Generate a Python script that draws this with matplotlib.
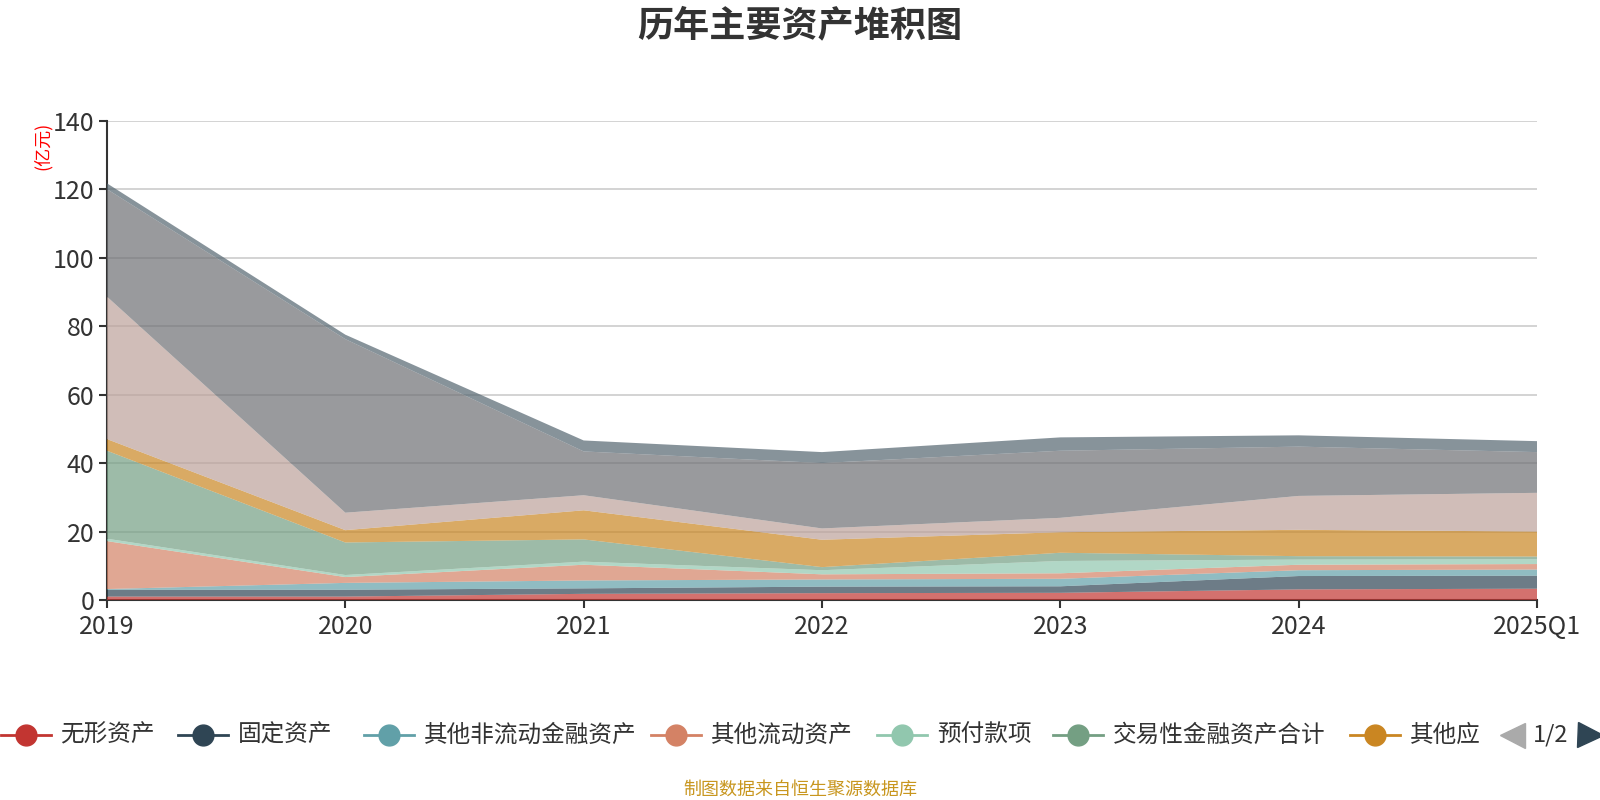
import matplotlib as mpl
import matplotlib.pyplot as plt
from matplotlib.lines import Line2D

mpl.rcParams['font.family'] = ['Noto Sans CJK SC', 'DejaVu Sans']

# 报告期
periods = ["2019", "2020", "2021", "2022", "2023", "2024", "2025Q1"]

# 各项资产（亿元），自下而上堆积
wuxing_zichan = [1.0, 1.0, 1.8, 2.0, 2.1, 3.1, 3.3]
guding_zichan = [2.0, 2.0, 1.6, 1.9, 1.9, 3.9, 3.8]
qita_fldjr_zichan = [0.2, 2.0, 2.3, 2.1, 2.2, 1.7, 1.8]
qita_ld_zichan = [14.0, 1.7, 4.6, 1.5, 1.6, 1.6, 1.6]
yufu_kuanxiang = [0.7, 0.6, 0.9, 1.2, 3.6, 1.5, 1.4]
jiaoyi_jr_zichan = [25.7, 9.5, 6.5, 0.9, 2.4, 1.0, 0.8]
qita_ying = [3.4, 3.6, 8.5, 8.0, 6.0, 7.7, 7.3]
# 第2页图例中的系列
yingshou = [41.6, 5.1, 4.4, 3.3, 4.2, 9.9, 11.3]
huobi_zijin = [31.4, 50.7, 12.8, 19.1, 19.6, 14.4, 11.9]
cunhuo = [1.7, 1.3, 3.2, 3.2, 3.9, 3.3, 3.2]

series = [wuxing_zichan, guding_zichan, qita_fldjr_zichan, qita_ld_zichan,
          yufu_kuanxiang, jiaoyi_jr_zichan, qita_ying, yingshou, huobi_zijin, cunhuo]
legend_names = ["无形资产", "固定资产", "其他非流动金融资产", "其他流动资产",
                "预付款项", "交易性金融资产合计", "其他应"]
colors = ['#c23531', '#2f4554', '#61a0a8', '#d48265', '#91c7ae', '#749f83',
          '#ca8622', '#bda29a', '#6e7074', '#546570']

fig = plt.figure(figsize=(16, 8), dpi=100)
ax = fig.add_axes([107 / 1600, 200 / 800, 1430 / 1600, 479.3 / 800])

x = list(range(len(periods)))
ax.stackplot(x, *series, colors=colors, alpha=0.7, linewidth=0, zorder=2)

ax.set_xlim(0, len(periods) - 1)
ax.set_ylim(0, 140)
ax.set_yticks(range(0, 141, 20))
ax.set_xticks(x)
ax.set_xticklabels(periods)
ax.yaxis.grid(True, color='#cccccc', linewidth=1.2, zorder=0)
ax.set_axisbelow(True)
for s in ['top', 'right']:
    ax.spines[s].set_visible(False)
for s in ['left', 'bottom']:
    ax.spines[s].set_color('#333333')
    ax.spines[s].set_linewidth(1.5)
    ax.spines[s].set_zorder(1)
ax.tick_params(axis='both', colors='#333333', labelsize=18, length=6, width=1.5)
ax.tick_params(axis='x', pad=4)
ax.tick_params(axis='y', pad=3)

fig.text(43 / 1600, 1 - 146 / 800, "(亿元)", color='red', fontsize=13,
         rotation=90, ha='center', va='center')

fig.text(0.5, 1 - 26 / 800, "历年主要资产堆积图", fontsize=26, fontweight='bold',
         color='#333333', ha='center', va='center')

# 图例（第1页）
lg = fig.add_axes([0, 0, 1, 1], facecolor='none')
lg.set_xlim(0, 1600)
lg.set_ylim(800, 0)
lg.axis('off')
marker_x = [25.5, 202.5, 389, 676, 902, 1078, 1375]
ly = 735
for mx, name, c in zip(marker_x, legend_names, colors):
    lg.add_line(Line2D([mx - 25, mx + 25], [ly, ly], color=c, linewidth=2))
    lg.plot(mx, ly, 'o', color=c, markersize=15)
    lg.text(mx + 35, ly, name, fontsize=17, color='#333333', ha='left', va='center')
lg.plot(1512, ly, '<', color='#aaaaaa', markersize=18)
lg.text(1551, ly, "1/2", fontsize=17, color='#333333', ha='center', va='center')
lg.plot(1590, ly, '>', color='#2f4554', markersize=18)

fig.text(0.5, 1 - 790 / 800, "制图数据来自恒生聚源数据库", fontsize=13,
         color='#c8961e', ha='center', va='center')

fig.savefig("out.png")
